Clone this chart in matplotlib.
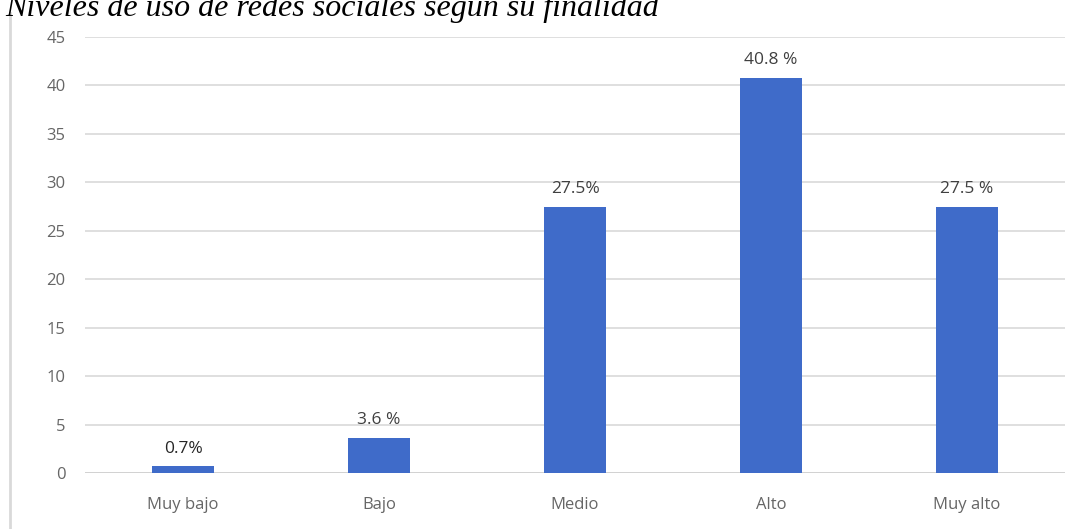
import matplotlib.pyplot as plt
from matplotlib.lines import Line2D

categorias = ['Muy bajo', 'Bajo', 'Medio', 'Alto', 'Muy alto']
valores = [0.7, 3.6, 27.5, 40.8, 27.5]
etiquetas = ['0.7%', '3.6 %', '27.5%', '40.8 %', '27.5 %']
yticks = [0, 5, 10, 15, 20, 25, 30, 35, 40, 45]
titulo = 'Niveles de uso de redes sociales según su finalidad'

fig = plt.figure(figsize=(10.86, 5.29), dpi=100)
ax = fig.add_axes([0.0783, 0.1059, 0.9024, 0.8241])

x = range(len(categorias))
ax.bar(x, valores, width=0.32, color='#3f6bc9', zorder=3)

for i, v in enumerate(valores):
    col = '#262626' if i == 0 else '#404040'
    ax.text(i, v + 1.0, etiquetas[i], ha='center', va='bottom',
            fontsize=12.5, color=col, family='Open Sans')

ax.set_xlim(-0.5, len(categorias) - 0.5)
ax.set_ylim(0, 45)
ax.set_yticks(yticks)
ax.set_xticks(list(x))
ax.set_xticklabels(categorias)
ax.yaxis.grid(True, color='#d9d9d9', linewidth=1.2, zorder=0)
ax.tick_params(length=0, labelsize=12, labelcolor='#666666', pad=14)
ax.tick_params(axis='x', pad=17)
for lbl in ax.get_xticklabels() + ax.get_yticklabels():
    lbl.set_family('Open Sans')
for s in ax.spines.values():
    s.set_visible(False)
ax.axhline(0, color='#d0d0d0', linewidth=1.2, zorder=2)

# borde izquierdo del recuadro
fig.add_artist(Line2D([10 / 1086, 10 / 1086], [0, 1 - 13 / 529],
                      color='#d9d9d9', linewidth=2, transform=fig.transFigure))

fig.text(5 / 1086, 1 - 16 / 529, titulo, ha='left', va='baseline',
         fontsize=23, style='italic', family='Liberation Serif', color='black')

fig.savefig('out.png', dpi=100)
